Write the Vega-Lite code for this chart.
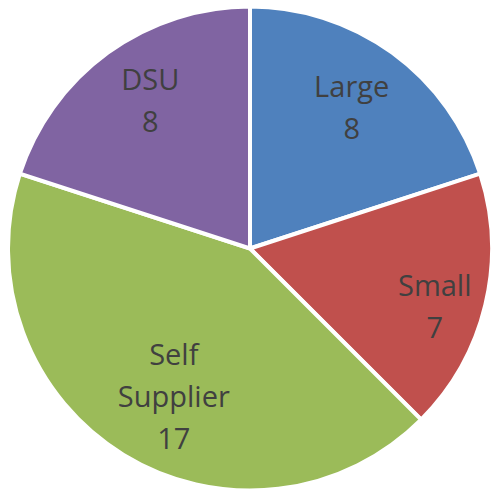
{
  "$schema": "https://vega.github.io/schema/vega-lite/v6.json",
  "width": 491,
  "height": 493,
  "autosize": {"type": "fit", "contains": "padding"},
  "padding": {"left": 9, "right": 0, "top": 4, "bottom": 0},
  "background": "white",
  "config": {"view": {"stroke": null}},
  "data": {"values": [
    {"category": "Large", "value": 8, "label": "Large\n8", "ord": 1},
    {"category": "Small", "value": 7, "label": "Small\n7", "ord": 2},
    {"category": "Self Supplier", "value": 17, "label": "Self\nSupplier\n17", "ord": 3},
    {"category": "DSU", "value": 8, "label": "DSU\n8", "ord": 4}
  ]},
  "encoding": {
    "theta": {"field": "value", "type": "quantitative", "stack": true},
    "order": {"field": "ord", "type": "quantitative"},
    "color": {"field": "category", "type": "nominal", "sort": null,
      "scale": {"domain": ["Large", "Small", "Self Supplier", "DSU"], "range": ["#4F81BD", "#C0504D", "#9BBB59", "#8064A2"]},
      "legend": null}
  },
  "layer": [
    {"mark": {"type": "arc", "outerRadius": 242, "stroke": "white", "strokeWidth": 4}},
    {"mark": {"type": "text", "radius": 173, "dy": -21, "fontSize": 29, "font": "Open Sans", "lineBreak": "\n", "lineHeight": 42, "align": "center", "baseline": "middle"},
     "encoding": {"text": {"condition": {"test": "datum.category === 'Large'", "field": "label"}, "value": ""}, "color": {"value": "#404040"}}},
    {"mark": {"type": "text", "radius": 190, "dy": -6, "fontSize": 29, "font": "Open Sans", "lineBreak": "\n", "lineHeight": 42, "align": "center", "baseline": "middle"},
     "encoding": {"text": {"condition": {"test": "datum.category === 'Small'", "field": "label"}, "value": ""}, "color": {"value": "#404040"}}},
    {"mark": {"type": "text", "radius": 165, "dx": 10, "dy": -33, "fontSize": 29, "font": "Open Sans", "lineBreak": "\n", "lineHeight": 42, "align": "center", "baseline": "middle"},
     "encoding": {"text": {"condition": {"test": "datum.category === 'Self Supplier'", "field": "label"}, "value": ""}, "color": {"value": "#404040"}}},
    {"mark": {"type": "text", "radius": 178, "dx": 5, "dy": -23, "fontSize": 29, "font": "Open Sans", "lineBreak": "\n", "lineHeight": 42, "align": "center", "baseline": "middle"},
     "encoding": {"text": {"condition": {"test": "datum.category === 'DSU'", "field": "label"}, "value": ""}, "color": {"value": "#404040"}}}
  ]
}
